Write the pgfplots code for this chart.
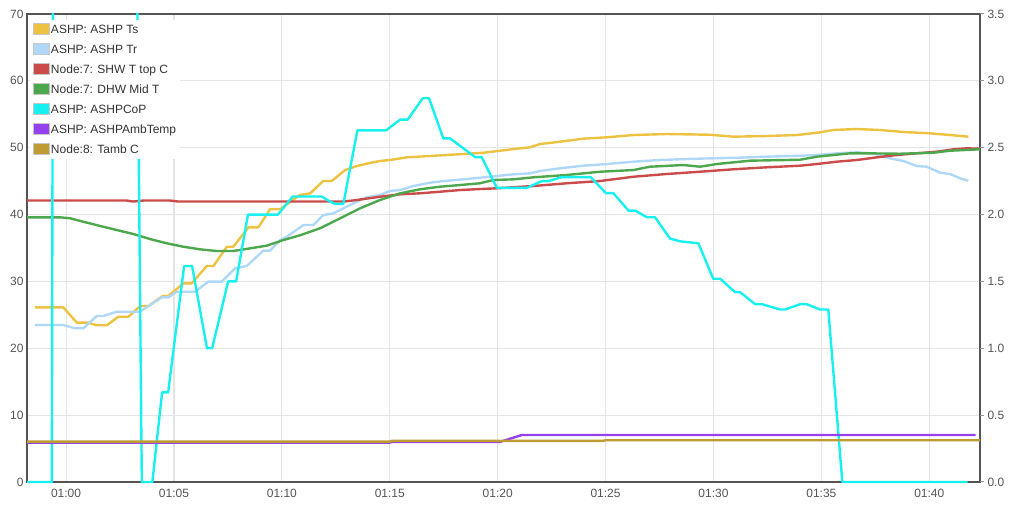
\documentclass[border=0pt]{standalone}
\usepackage{fontspec}
\setmainfont{Liberation Sans}
\usepackage{pgfplots}
\usepackage{pgfplotstable}
\pgfplotsset{compat=1.18}

\definecolor{tsc}{HTML}{EDC240}
\definecolor{trc}{HTML}{AFD8F8}
\definecolor{shwc}{HTML}{CB4B4B}
\definecolor{dhwc}{HTML}{4DA74D}
\definecolor{copc}{HTML}{18F0F0}
\definecolor{ambc}{HTML}{9440ED}
\definecolor{tambc}{HTML}{BE9B33}
\definecolor{framec}{HTML}{545454}
\definecolor{gridc}{HTML}{E4E4E4}

% x = minutes after midnight (60 = 01:00)
\pgfplotstableread{
m v
58.56 26.13
59.87 26.13
60.50 23.83
61.03 23.83
61.42 23.44
61.89 23.44
62.42 24.72
62.89 24.72
63.43 26.32
63.81 26.32
64.48 27.82
64.74 27.82
65.44 29.72
65.82 29.72
66.52 32.31
66.83 32.31
67.45 35.19
67.75 35.19
68.45 38.09
68.91 38.09
69.45 40.79
69.92 40.79
70.61 42.43
70.84 42.93
71.31 43.18
71.92 45.02
72.31 45.02
72.93 46.66
73.47 47.26
74.01 47.67
74.55 48.01
75.01 48.16
75.79 48.56
76.87 48.76
78.41 49.06
79.34 49.25
80.11 49.55
81.04 49.91
81.50 50.06
81.96 50.55
82.89 50.90
83.97 51.35
85.06 51.56
86.29 51.90
87.84 52.05
89.84 51.94
90.92 51.65
92.47 51.75
93.86 51.90
94.94 52.30
95.56 52.65
96.64 52.80
97.72 52.65
98.80 52.35
100.04 52.15
100.96 51.90
101.81 51.65
}\ts

\pgfplotstableread{
m v
58.56 23.48
59.87 23.48
60.42 22.99
60.80 22.99
61.42 24.83
61.73 24.83
62.35 25.47
63.43 25.47
64.43 27.62
64.74 27.62
65.13 28.46
65.98 28.46
66.59 29.96
67.21 29.96
67.83 31.96
68.37 32.31
69.14 34.60
69.45 34.60
69.92 36.19
70.23 36.69
71.00 38.44
71.46 38.44
71.92 39.93
72.39 40.19
72.85 40.93
73.31 41.68
73.93 42.58
74.55 42.93
75.01 43.52
75.48 43.67
76.09 44.27
76.87 44.77
77.64 45.06
78.57 45.32
79.18 45.51
79.96 45.77
80.73 46.02
81.50 46.17
81.96 46.52
82.89 46.92
83.97 47.31
85.06 47.56
86.29 47.91
87.53 48.16
88.76 48.31
90.00 48.42
91.23 48.51
92.47 48.66
94.01 48.80
94.79 48.91
95.71 49.16
96.64 49.31
97.41 49.16
98.18 48.42
98.80 48.01
99.42 47.26
99.88 47.16
100.50 46.26
100.96 46.07
101.43 45.42
101.81 45.06
}\tr

\pgfplotstableread{
m v
58.19 42.10
62.80 42.10
63.10 41.95
63.60 42.10
64.80 42.10
65.20 41.95
72.90 41.95
73.47 42.18
74.55 42.67
75.48 43.03
76.40 43.18
77.33 43.42
78.26 43.67
79.18 43.82
79.96 43.93
81.65 44.27
83.20 44.68
84.75 45.02
86.29 45.66
87.84 46.07
89.38 46.41
90.92 46.77
92.47 47.07
94.01 47.31
94.79 47.56
95.71 47.91
96.64 48.16
97.57 48.56
98.49 48.91
99.42 49.16
100.35 49.41
101.12 49.76
101.74 49.91
102.35 49.85
}\shw

\pgfplotstableread{
m v
58.18 39.59
59.72 39.59
60.19 39.44
60.80 38.93
61.58 38.29
62.35 37.69
63.12 37.09
63.89 36.34
64.67 35.70
65.44 35.19
66.21 34.80
66.98 34.55
67.75 34.55
68.53 34.95
69.30 35.35
70.07 36.19
70.84 36.90
71.77 37.95
72.70 39.44
73.62 40.93
74.55 42.18
75.48 43.18
76.40 43.78
77.33 44.17
78.26 44.42
79.18 44.68
79.80 45.17
80.73 45.27
81.65 45.57
83.20 45.92
84.75 46.41
86.29 46.66
87.06 47.16
88.61 47.41
89.38 47.16
90.15 47.56
91.70 48.06
94.01 48.20
94.79 48.66
96.33 49.16
97.10 49.16
98.65 49.10
100.19 49.25
100.96 49.55
102.35 49.76
}\dhw

\pgfplotstableread{
m v
58.19 0
59.34 0
59.71 28
63.14 6.4
63.51 0
64.00 0
64.45 0.67
64.73 0.67
65.47 1.615
65.84 1.615
66.53 1.00
66.77 1.00
67.51 1.50
67.88 1.50
68.43 2.00
69.82 2.00
70.50 2.135
71.85 2.135
72.20 2.10
72.46 2.08
72.85 2.08
73.50 2.63
74.83 2.63
75.48 2.71
75.83 2.71
76.53 2.87
76.82 2.87
77.48 2.57
77.79 2.57
78.95 2.43
79.26 2.43
79.96 2.20
81.35 2.20
82.04 2.25
82.35 2.25
82.97 2.28
84.31 2.28
85.02 2.16
85.36 2.16
86.06 2.03
86.37 2.03
86.91 1.98
87.29 1.98
87.99 1.82
88.45 1.80
89.30 1.785
89.99 1.52
90.31 1.52
91.00 1.42
91.23 1.42
91.93 1.33
92.24 1.33
93.09 1.29
93.32 1.29
94.02 1.33
94.32 1.33
94.94 1.29
95.32 1.29
95.97 0
101.78 0
}\cop

\pgfplotstableread{
m v
58.19 5.90
75.00 5.90
75.10 6.00
80.11 6.00
81.12 7.03
102.15 7.03
}\amb

\pgfplotstableread{
m v
58.19 6.05
75.00 6.05
75.10 6.15
84.88 6.15
85.00 6.25
102.35 6.25
}\tamb

\pgfplotsset{
  base/.style={
    width=953bp, height=468bp, scale only axis,
    at={(27bp,28bp)}, anchor=south west,
    xmin=58.19, xmax=102.35,
    xtick={60,65,70,75,80,85,90,95,100},
    major tick length=0pt,
    /pgf/number format/assume math mode=true,
    ticklabel style={font=\fontsize{12bp}{14bp}\selectfont, text=framec},
  },
  temp/.style={ymin=0, ymax=70, ytick={0,10,20,30,40,50,60,70}},
  ln/.style={line width=2.4bp, line join=round, mark=none},
}

\newcommand\swatch[1]{\addlegendimage{legend image code/.code={%
  \draw[fill=#1, draw=black!22, line width=0.8bp] (0bp,-4.5bp) rectangle (16bp,6.5bp);}}}

\begin{document}
\begin{tikzpicture}
\useasboundingbox (0,0) rectangle (1022bp,510bp);

% bottom layer: grid, frame, temperatures
\begin{axis}[base, temp,
  xticklabels={}, yticklabels={},
  grid=major, grid style={draw=gridc, line width=1.1bp},
  axis line style={draw=framec, line width=2bp}]
\addplot[ln, tsc] table {\ts};
\addplot[ln, trc] table {\tr};
\addplot[ln, shwc] table {\shw};
\addplot[ln, dhwc] table {\dhw};
\end{axis}

% right scale: COP
\begin{axis}[base, at={(27bp,26bp)}, height=470bp,
  ymin=-0.014957, ymax=3.5,
  axis x line=none, axis y line*=right, axis line style={draw=none},
  ytick={0,0.5,1,1.5,2,2.5,3,3.5},
  yticklabel style={anchor=west, /pgf/number format/.cd, fixed, fixed zerofill, precision=1},
  major tick length=4bp, tick align=outside,
  ytick style={draw=framec!60, line width=1bp}]
\addplot[ln, copc] table {\cop};
\end{axis}

% top layer: ambient, labels, legend
\begin{axis}[base, temp, axis line style={draw=none},
  xticklabels={01:00,01:05,01:10,01:15,01:20,01:25,01:30,01:35,01:40},
  xticklabel style={yshift=-4bp},
  legend cell align=left,
  legend style={at={(0,1)}, anchor=north west, xshift=3bp, yshift=-6bp,
    draw=none, fill=white,
    font=\fontsize{12bp}{14bp}\selectfont, text=black!80,
    row sep=7bp, inner sep=3bp,
    nodes={inner sep=1bp}}]
\swatch{tsc}\addlegendentry{ASHP: ASHP Ts}
\swatch{trc}\addlegendentry{ASHP: ASHP Tr}
\swatch{shwc}\addlegendentry{Node:7: SHW T top C}
\swatch{dhwc}\addlegendentry{Node:7: DHW Mid T}
\swatch{copc}\addlegendentry{ASHP: ASHPCoP}
\swatch{ambc}\addlegendentry{ASHP: ASHPAmbTemp}
\swatch{tambc}\addlegendentry{Node:8: Tamb C}
\addplot[ln, ambc, forget plot] table {\amb};
\addplot[ln, tambc, forget plot] table {\tamb};
\end{axis}
\end{tikzpicture}
\end{document}
